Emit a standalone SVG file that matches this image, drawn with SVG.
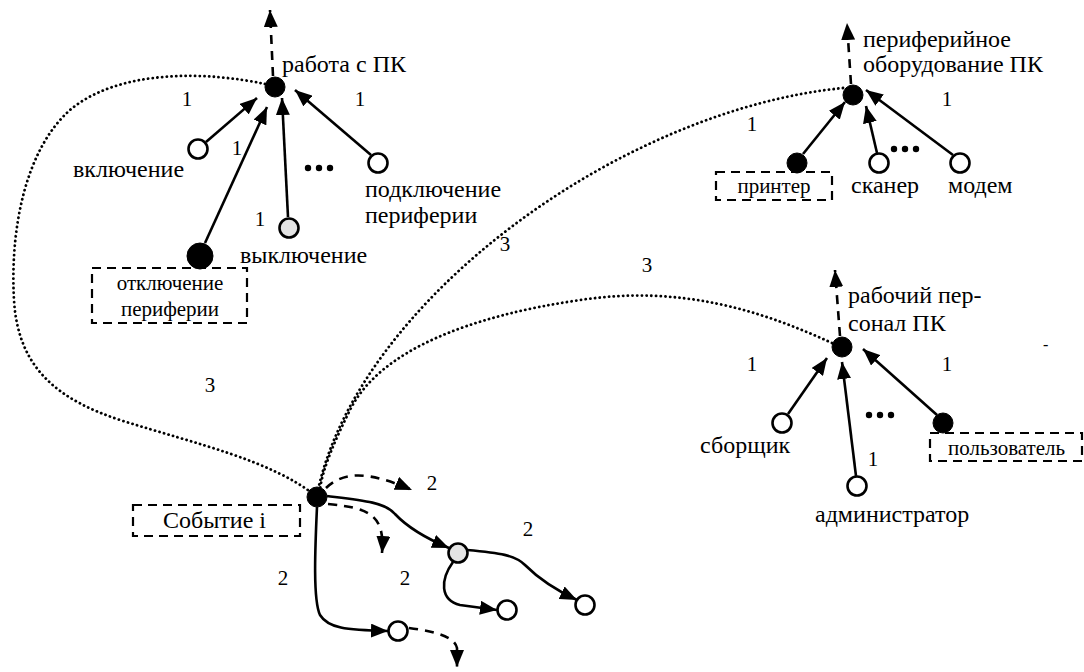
<svg xmlns="http://www.w3.org/2000/svg" width="1084" height="672" viewBox="0 0 1084 672" font-family="'Liberation Serif', 'DejaVu Serif', serif">
<defs>
<marker id="ah" markerUnits="userSpaceOnUse" markerWidth="17" markerHeight="14" refX="17" refY="7" orient="auto" viewBox="0 0 17 14">
<path d="M0,0 L17,7 L0,14 z" fill="#000" stroke="none"/>
</marker>
</defs>
<style>
text{fill:#000}
.lb{font-size:24px}
.bx{font-size:21px}
.nm{font-size:21px;text-anchor:middle}
.arr{fill:none;stroke:#000;stroke-width:2.6;marker-end:url(#ah)}
.dsh{fill:none;stroke:#000;stroke-width:2.6;stroke-dasharray:9 7;marker-end:url(#ah)}
.dot{fill:none;stroke:#000;stroke-width:2.8;stroke-dasharray:0.1 4.6;stroke-linecap:round}
.box{fill:none;stroke:#000;stroke-width:2.2;stroke-dasharray:9 6}
.f{fill:#000;stroke:#000;stroke-width:1}
.o{fill:#fff;stroke:#000;stroke-width:2.6}
.g{fill:#e4e4e4;stroke:#000;stroke-width:2.6}
</style>

<g id="connectors">
<path class="dot" d="M265,84 C210,72 120,68 70,110 C25,150 10,230 14,300 C18,370 60,400 120,420 C200,445 270,460 316,496"/>
<path class="dot" d="M843,88 C620,110 360,300 318,490"/>
<path class="dot" d="M832,343 C760,310 680,285 580,300 C470,316 380,350 350,410 C335,440 322,470 320,490"/>
<path class="dsh" d="M273,76 L270,10"/>
<path class="arr" d="M206,142 L257,98"/>
<path class="arr" d="M205,243 L267,107"/>
<path class="arr" d="M288,217 L282,98"/>
<path class="arr" d="M371,155 L295,90"/>
<path class="dsh" d="M851,84 L847,23"/>
<path class="arr" d="M803,154 L845,102"/>
<path class="arr" d="M877,153 L866,106"/>
<path class="arr" d="M953,155 L866,90"/>
<path class="dsh" d="M840,336 L835,270"/>
<path class="arr" d="M788,414 L827,358"/>
<path class="arr" d="M856,476 L842,362"/>
<path class="arr" d="M937,415 L863,349"/>
<path class="dsh" d="M326,488 C345,470 370,472 412,490"/>
<path class="dsh" d="M328,504 C370,508 385,515 382,553"/>
<path class="arr" d="M327,496 C360,500 385,502 395,514 C410,530 430,540 449,548"/>
<path class="arr" d="M467,550 C500,553 515,555 525,565 C540,580 560,592 577,600"/>
<path class="arr" d="M453,562 C440,580 440,600 460,605 L497,610"/>
<path class="arr" d="M317,507 C315,550 313,600 320,615 C328,628 345,630 388,631"/>
<path class="dsh" d="M409,628 C440,632 455,638 457,648 L457,667"/>
</g>

<g id="n-rabota">
<circle class="f" cx="275" cy="87" r="10"/>
<text class="lb" x="282" y="72">работа с ПК</text>
</g>
<g id="n-vkl">
<circle class="o" cx="198" cy="149" r="9.5"/>
<text class="lb" x="73" y="177">включение</text>
</g>
<g id="n-otkl">
<circle class="f" cx="200" cy="256" r="13"/>
<rect class="box" x="92" y="268" width="155" height="55"/>
<text class="bx" x="170" y="290" text-anchor="middle">отключение</text>
<text class="bx" x="170" y="316" text-anchor="middle">периферии</text>
</g>
<g id="n-vykl">
<circle class="g" cx="289" cy="228" r="9.5"/>
<text class="lb" x="240" y="263">выключение</text>
</g>
<g id="n-podkl">
<circle class="o" cx="378" cy="163" r="9.5"/>
<text class="lb" x="365" y="197">подключение</text>
<text class="lb" x="365" y="223">периферии</text>
</g>
<g id="dots1">
<circle cx="308" cy="168" r="3.2"/><circle cx="319" cy="168" r="3.2"/><circle cx="330" cy="168" r="3.2"/>
</g>

<g id="n-periph">
<circle class="f" cx="853" cy="95" r="10"/>
<text class="lb" x="863" y="47">периферийное</text>
<text class="lb" x="863" y="72">оборудование ПК</text>
</g>
<g id="n-printer">
<circle class="f" cx="797" cy="163" r="10"/>
<rect class="box" x="716" y="172" width="116" height="28"/>
<text class="bx" x="774" y="193" text-anchor="middle">принтер</text>
</g>
<g id="n-scanner">
<circle class="o" cx="879" cy="163" r="9.5"/>
<text class="lb" x="851" y="193">сканер</text>
</g>
<g id="dots2">
<circle cx="894" cy="149" r="3.2"/><circle cx="905" cy="149" r="3.2"/><circle cx="916" cy="149" r="3.2"/>
</g>
<g id="n-modem">
<circle class="o" cx="960" cy="163" r="9.5"/>
<text class="lb" x="948" y="193">модем</text>
</g>

<g id="n-staff">
<circle class="f" cx="842" cy="347" r="10"/>
<text class="lb" x="848" y="303">рабочий пер-</text>
<text class="lb" x="848" y="331">сонал ПК</text>
</g>
<g id="n-sborshik">
<circle class="o" cx="782" cy="423" r="9.5"/>
<text class="lb" x="700" y="453">сборщик</text>
</g>
<g id="n-admin">
<circle class="o" cx="857" cy="486" r="9.5"/>
<text class="lb" x="815" y="522">администратор</text>
</g>
<g id="n-user">
<circle class="f" cx="943" cy="423" r="10"/>
<rect class="box" x="930" y="433" width="152" height="28"/>
<text class="bx" x="948" y="455">пользователь</text>
</g>
<g id="dots3">
<circle cx="869" cy="415" r="3.2"/><circle cx="880" cy="415" r="3.2"/><circle cx="891" cy="415" r="3.2"/>
</g>
<text x="1043" y="350" style="font-size:16px">-</text>

<g id="n-event">
<circle class="f" cx="317" cy="497" r="10"/>
<rect class="box" x="133" y="505" width="167" height="31"/>
<text class="lb" x="163" y="528">Событие i</text>
</g>
<g id="n-a"><circle class="g" cx="458" cy="553" r="9.5"/></g>
<g id="n-b"><circle class="o" cx="585" cy="605" r="9.5"/></g>
<g id="n-c"><circle class="o" cx="507" cy="610" r="9.5"/></g>
<g id="n-d"><circle class="o" cx="398" cy="631" r="9.5"/></g>

<g id="labels">
<text class="nm" x="187" y="106">1</text>
<text class="nm" x="237" y="155">1</text>
<text class="nm" x="260" y="226">1</text>
<text class="nm" x="360" y="106">1</text>
<text class="nm" x="752" y="131">1</text>
<text class="nm" x="947" y="106">1</text>
<text class="nm" x="752" y="371">1</text>
<text class="nm" x="947" y="371">1</text>
<text class="nm" x="873" y="466">1</text>
<text class="nm" x="505" y="251">3</text>
<text class="nm" x="647" y="272">3</text>
<text class="nm" x="210" y="392">3</text>
<text class="nm" x="432" y="490">2</text>
<text class="nm" x="528" y="536">2</text>
<text class="nm" x="405" y="585">2</text>
<text class="nm" x="283" y="585">2</text>
</g>
</svg>
